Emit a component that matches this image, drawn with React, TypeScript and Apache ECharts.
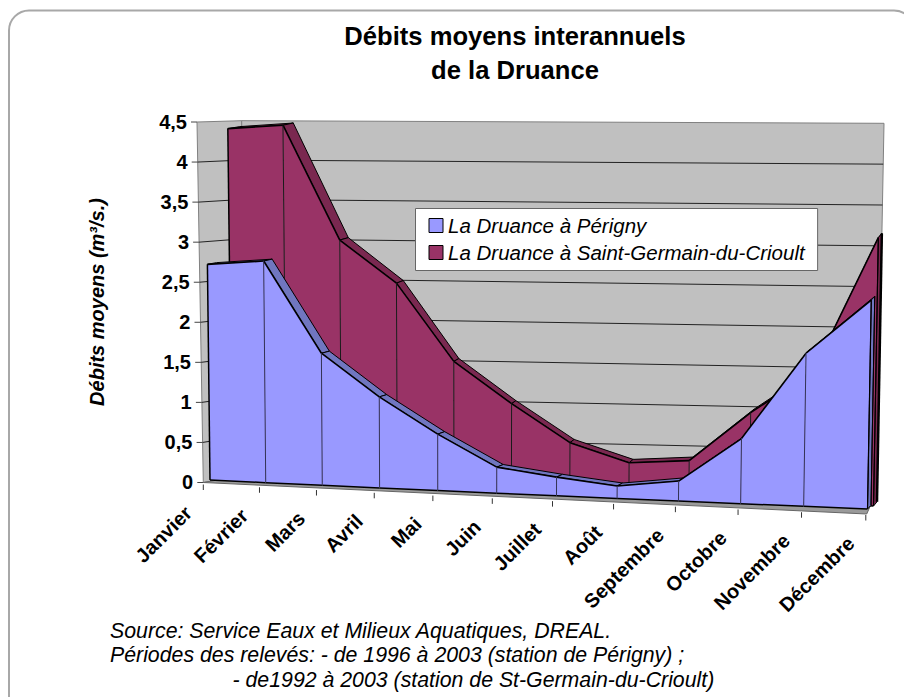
import React, { useEffect, useRef } from "react";
import * as echarts from "echarts";

const months = ["Janvier", "Février", "Mars", "Avril", "Mai", "Juin", "Juillet", "Août", "Septembre", "Octobre", "Novembre", "Décembre"];
const perigny = [2.73, 2.77, 1.63, 1.11, 0.68, 0.31, 0.22, 0.145, 0.23, 0.74, 1.72, 2.32];
const saintGermain = [4.41, 4.43, 2.99, 2.46, 1.52, 1.03, 0.59, 0.38, 0.43, 1.0, 1.48, 2.98];
const yTickValues = [0, 0.5, 1, 1.5, 2, 2.5, 3, 3.5, 4, 4.5];
const yTickLabels = ["0", "0,5", "1", "1,5", "2", "2,5", "3", "3,5", "4", "4,5"];
const seriesNames = ["La Druance à Périgny", "La Druance à Saint-Germain-du-Crioult"];
const footerLines = [
  "Source: Service Eaux et Milieux Aquatiques, DREAL.",
  "Périodes des relevés: - de 1996 à 2003 (station de Périgny) ;",
  "- de1992 à 2003 (station de St-Germain-du-Crioult)",
];

const FONT = '"Liberation Sans", Arial, sans-serif';
const GL = 203, GT = 122, GW = 664, GH = 360;

// Oblique view of the flat cartesian grid
type Pt = [number, number];
function plane(api: any, i: number, v: number): { t: number; x: number; y: number; by: number; bx: number } {
  const p = api.coord([i, v]);
  const t = (p[0] - GL) / GW;
  const k = (GT + GH - p[1]) / 80;
  const h = 79 * (1 + 0.14 * t) * k;
  const bx = 210 + 657.5 * t + 49 * t * (t - 1);
  const by = 480 + 29 * t;
  const lean = 0.03 * (t - 0.4);
  return { t, x: bx + lean * h, y: by - h, bx, by };
}
function blueFront(api: any, i: number, v: number): Pt {
  const q = plane(api, i, v);
  return [q.x, q.y];
}
function blueBack(api: any, i: number, v: number): Pt {
  const q = plane(api, i, v);
  return [q.x + 9 - 5.5 * q.t, q.y - 1.7 - 2 * q.t];
}
function maroonFront(api: any, i: number, v: number): Pt {
  const q = plane(api, i, v);
  return [q.x + 22 - 16 * q.t, q.y - 3];
}
function maroonBack(api: any, i: number, v: number): Pt {
  const q = plane(api, i, v);
  const d = 3.5 + 7 * Math.max(0, 1 - q.t / 0.4) + 1.5 * (1 - q.t);
  return [q.x + 22 - 16 * q.t + d, q.y - 3 - 2 - 2.2 * q.t];
}

function areaItem(values: number[], front: any, back: any, fill: string, top: string, edge: string, endWidth: number) {
  return (params: any, api: any) => {
    const i = params.dataIndex;
    const last = values.length - 1;
    const kids: any[] = [];
    const vLine = (a: Pt, b: Pt, color: string, w: number) => ({
      type: "line",
      shape: { x1: a[0], y1: a[1], x2: b[0], y2: b[1] },
      style: { stroke: color, lineWidth: w },
    });
    if (i < last) {
      const f0 = front(api, i, values[i]);
      const f1 = front(api, i + 1, values[i + 1]);
      const b0 = back(api, i, values[i]);
      const b1 = back(api, i + 1, values[i + 1]);
      const base0 = front(api, i, 0);
      const base1 = front(api, i + 1, 0);
      kids.push({ type: "polygon", shape: { points: [f0, b0, b1, f1] }, style: { fill: top, stroke: "#000", lineWidth: 1 } });
      kids.push({ type: "polygon", shape: { points: [f0, f1, base1, base0] }, style: { fill } });
      kids.push({ type: "polyline", shape: { points: [f0, f1] }, style: { stroke: "#000", lineWidth: 1.6, fill: "none" } });
      kids.push({ type: "polyline", shape: { points: [base0, base1] }, style: { stroke: "#000", lineWidth: 1.5, fill: "none" } });
      if (i === 0) kids.push(vLine(f0, base0, "#000", 1.5));
      if (i > 0) kids.push(vLine(f0, base0, edge, 1));
    } else {
      const f = front(api, i, values[i]);
      const b = back(api, i, values[i]);
      const base = front(api, i, 0);
      const bb = back(api, i, 0);
      kids.push({ type: "polygon", shape: { points: [f, b, bb, base] }, style: { fill: top, stroke: "#000", lineWidth: 1 } });
      kids.push(vLine(f, base, "#000", 1.2));
      kids.push(vLine(b, bb, "#000", endWidth));
    }
    return { type: "group", children: kids, silent: true };
  };
}

function wallsItem(params: any, api: any) {
  const kids: any[] = [];
  const sideTL: Pt = [197, 122], sideBL: Pt = [203.3, 482.5];
  const backTL: Pt = [241.7, 120.7], backBL: Pt = [245, 475];
  const backTR: Pt = [884, 123.3], backBR: Pt = [877, 491];
  const frontR: Pt = [866.7, 514];
  const lerp = (a: Pt, b: Pt, s: number): Pt => [a[0] + (b[0] - a[0]) * s, a[1] + (b[1] - a[1]) * s];
  const seg = (a: Pt, b: Pt, stroke: string, lineWidth: number) => ({
    type: "line",
    shape: { x1: a[0], y1: a[1], x2: b[0], y2: b[1] },
    style: { stroke, lineWidth },
  });
  kids.push({ type: "polygon", shape: { points: [sideTL, backTL, backBL, sideBL] }, style: { fill: "#c0c0c0", stroke: "#808080", lineWidth: 1 } });
  kids.push({ type: "polygon", shape: { points: [backTL, backTR, backBR, backBL] }, style: { fill: "#c0c0c0", stroke: "#808080", lineWidth: 1 } });
  yTickValues.forEach((v) => {
    const py = api.coord([0, v])[1];
    const s = (GT + GH - py) / GH;
    const a = lerp(sideBL, sideTL, s);
    const b = lerp(backBL, backTL, s);
    const c = lerp(backBR, backTR, s);
    if (v > 0 && v < 4.5) {
      kids.push(seg(a, b, "#222", 1));
      kids.push(seg(b, c, "#222", 1));
    }
    kids.push(seg([a[0] - 6, a[1]], a, "#444", 1));
  });
  kids.push({ type: "polygon", shape: { points: [sideBL, backBL, backBR, frontR] }, style: { fill: "#9a9a9a", stroke: "#666", lineWidth: 1 } });
  months.forEach((_, i) => {
    const q = plane(api, i, 0);
    const tx = q.bx - 6.7 + 5 * q.t;
    const ty = 484.5 + 30.5 * q.t;
    kids.push(seg([tx, ty], [tx, ty + 5.5], "#333", 1));
    kids.push({
      type: "text",
      x: tx - 15,
      y: ty + 25,
      rotation: Math.PI / 4,
      style: { text: months[i], align: "right", verticalAlign: "middle", font: `bold 20px ${FONT}`, fill: "#000" },
    });
  });
  return { type: "group", children: kids, silent: true };
}

export default function App() {
  const ref = useRef<HTMLDivElement>(null);
  useEffect(() => {
    const chart = echarts.init(ref.current!, undefined, { renderer: "svg" });
    const rich: any = {};
    yTickLabels.forEach((_, k) => {
      rich["t" + k] = { fontFamily: FONT, fontWeight: "bold", fontSize: 20, color: "#000", padding: [0, (k * 6) / 9, 0, 0] };
    });
    chart.setOption({
      animation: false,
      backgroundColor: "#fff",
      title: {
        text: "Débits moyens interannuels\nde la Druance",
        left: 510,
        top: 14,
        textAlign: "center",
        textStyle: { fontFamily: FONT, fontWeight: "bold", fontSize: 25.6, lineHeight: 34, color: "#000" },
      },
      grid: { left: GL, top: GT, width: GW, height: GH },
      xAxis: {
        type: "category",
        data: months,
        boundaryGap: false,
        axisLine: { show: false },
        axisTick: { show: false },
        axisLabel: { show: false },
        splitLine: { show: false },
      },
      yAxis: {
        type: "value",
        min: 0,
        max: 4.5,
        interval: 0.5,
        name: "Débits moyens (m³/s.)",
        nameLocation: "middle",
        nameRotate: 90,
        nameGap: 96,
        nameTextStyle: { fontFamily: FONT, fontWeight: "bold", fontStyle: "italic", fontSize: 20, color: "#000" },
        axisLine: { show: false },
        axisTick: { show: false },
        splitLine: { show: false },
        axisLabel: {
          margin: 10,
          formatter: (_: number, idx: number) => `{t${idx}|${yTickLabels[idx]}}`,
          rich,
        },
      },
      legend: {
        orient: "vertical",
        left: 415.5,
        top: 208.5,
        padding: [6, 13, 7, 13],
        itemGap: 5,
        itemWidth: 14,
        itemHeight: 14,
        icon: "rect",
        backgroundColor: "#fff",
        borderColor: "#666",
        borderWidth: 1,
        selectedMode: false,
        itemStyle: { borderColor: "#000", borderWidth: 1 },
        textStyle: { fontFamily: FONT, fontStyle: "italic", fontSize: 20.5, color: "#000", lineHeight: 22 },
        data: seriesNames,
      },
      graphic: [
        { type: "rect", silent: true, shape: { x: 9, y: 10.5, width: 905, height: 720, r: 20 }, style: { fill: "none", stroke: "#a8a8a8", lineWidth: 2 } },
        { type: "text", silent: true, x: 110, y: 630.5, style: { text: footerLines[0], font: `italic 21.3px ${FONT}`, fill: "#000", verticalAlign: "middle" } },
        { type: "text", silent: true, x: 110, y: 655, style: { text: footerLines[1], font: `italic 21.3px ${FONT}`, fill: "#000", verticalAlign: "middle" } },
        { type: "text", silent: true, x: 232.5, y: 680, style: { text: footerLines[2], font: `italic 21.3px ${FONT}`, fill: "#000", verticalAlign: "middle" } },
      ],
      series: [
        {
          type: "custom",
          coordinateSystem: "cartesian2d",
          data: [[0, 0]],
          encode: { x: 0, y: 1 },
          renderItem: wallsItem,
          silent: true,
          z: 1,
        },
        {
          type: "custom",
          name: seriesNames[1],
          coordinateSystem: "cartesian2d",
          data: saintGermain.map((v, i) => [i, v]),
          encode: { x: 0, y: 1 },
          itemStyle: { color: "#993366" },
          renderItem: areaItem(saintGermain, maroonFront, maroonBack, "#993366", "#7a2850", "#1a1a1a", 2.5),
          silent: true,
          z: 2,
        },
        {
          type: "custom",
          name: seriesNames[0],
          coordinateSystem: "cartesian2d",
          data: perigny.map((v, i) => [i, v]),
          encode: { x: 0, y: 1 },
          itemStyle: { color: "#9999ff" },
          renderItem: areaItem(perigny, blueFront, blueBack, "#9999ff", "#7076c0", "#333355", 1),
          silent: true,
          z: 3,
        },
      ],
    });
    return () => chart.dispose();
  }, []);
  return <div ref={ref} style={{ position: "absolute", left: 0, top: 0, width: 904, height: 697 }} />;
}
